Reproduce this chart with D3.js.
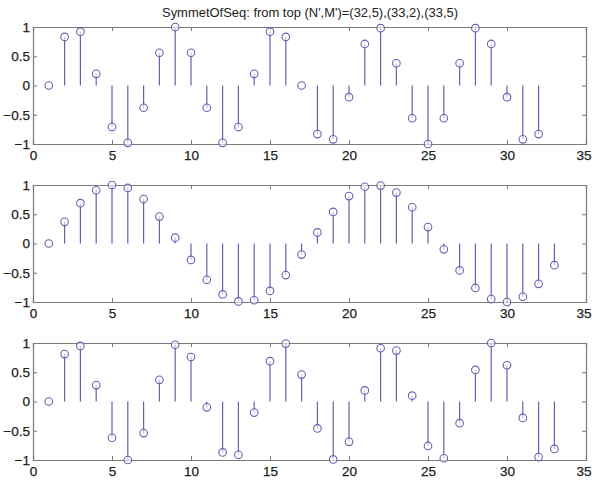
<!DOCTYPE html>
<html>
<head>
<meta charset="utf-8">
<script src="https://cdn.jsdelivr.net/npm/d3@7"></script>
<style>
  body { margin: 0; background: #fff; }
  svg { display: block; }
  .tick text { font-family: "Liberation Sans", Arial, sans-serif; font-size: 13.5px; fill: #222; stroke: #222; stroke-width: 0.25px; }
</style>
</head>
<body>
<div id="chart"></div>
<script>
// values, n = 1..N
var seqTop = [0, 0.83, 0.92, 0.20, -0.71, -0.98, -0.38, 0.56, 1.00, 0.56, -0.38, -0.98, -0.71, 0.20, 0.92, 0.83,
              0, -0.83, -0.92, -0.20, 0.71, 0.98, 0.38, -0.56, -1.00, -0.56, 0.38, 0.98, 0.71, -0.20, -0.92, -0.83]
var seqMid = [0, 0.37, 0.69, 0.91, 1.00, 0.95, 0.76, 0.46, 0.10, -0.28, -0.62, -0.87, -0.99, -0.97, -0.81, -0.54,
              -0.19, 0.19, 0.54, 0.81, 0.97, 0.99, 0.87, 0.62, 0.28, -0.10, -0.46, -0.76, -0.95, -1.00, -0.91, -0.69, -0.37]
var seqBot = [0, 0.81, 0.95, 0.28, -0.62, -1.00, -0.54, 0.37, 0.97, 0.76, -0.10, -0.87, -0.91, -0.19, 0.69, 0.99,
              0.46, -0.46, -0.99, -0.69, 0.19, 0.91, 0.87, 0.10, -0.76, -0.97, -0.37, 0.54, 1.00, 0.62, -0.28, -0.95, -0.81]
var xTicks = [0, 5, 10, 15, 20, 25, 30, 35]
var yTicks = [-1, -0.5, 0, 0.5, 1]
var titleText = "SymmetOfSeq: from top (N',M')=(32,5),(33,2),(33,5)"

var width = 592, height = 485
var margin = {left: 33, right: 6}
var panelTops = [27, 185, 343]
var panelH = 117
var stemColor = '#6262b0'
var frameColor = '#7a7a7a'

var svg = d3.select('#chart').append('svg')
    .attr('width', width)
    .attr('height', height)

//title is stretched a little in the original picture
svg.append('text')
    .attr('x', 162)
    .attr('y', 17)
    .attr('textLength', 296)
    .attr('lengthAdjust', 'spacingAndGlyphs')
    .attr('font-family', '"Liberation Sans", Arial, sans-serif')
    .attr('font-size', 12.5)
    .attr('fill', '#222')
    .text(titleText)

var x = d3.scaleLinear().domain([0, 35]).range([margin.left, width - margin.right])

function drawPanel(data, top){
    var y = d3.scaleLinear().domain([-1, 1]).range([top + panelH, top])
    var g = svg.append('g')

    //axes, matlab style: ticks inside, mirrored
    var bottomAxis = d3.axisBottom(x).tickValues(xTicks).tickSize(-4).tickPadding(6).tickFormat(d3.format('d'))
    var topAxis = d3.axisTop(x).tickValues(xTicks).tickSize(-4).tickFormat('')
    var leftAxis = d3.axisLeft(y).tickValues(yTicks).tickSize(-4).tickPadding(3).tickFormat(d => d3.format('')(d))
    var rightAxis = d3.axisRight(y).tickValues(yTicks).tickSize(-4).tickFormat('')

    var axes = [
        g.append('g').attr('transform', `translate(0,${top + panelH})`).call(bottomAxis),
        g.append('g').attr('transform', `translate(0,${top})`).call(topAxis),
        g.append('g').attr('transform', `translate(${margin.left},0)`).call(leftAxis),
        g.append('g').attr('transform', `translate(${width - margin.right},0)`).call(rightAxis)
    ]
    axes.forEach(a => {
        a.select('.domain').attr('stroke', frameColor).attr('stroke-width', 1.2)
        a.selectAll('.tick line').attr('stroke', frameColor)
    })
    //keep the last x label inside the window
    axes[0].selectAll('.tick text').filter(d => d === 35)
        .attr('text-anchor', 'end')
        .attr('dx', 5)

    //stems
    g.selectAll('line.stem')
        .data(data)
        .enter()
        .append('line')
        .attr('class', 'stem')
        .attr('x1', (d, i) => x(i + 1))
        .attr('x2', (d, i) => x(i + 1))
        .attr('y1', y(0))
        .attr('y2', d => y(d))
        .attr('stroke', stemColor)
        .attr('stroke-width', 1.2)

    //markers
    g.selectAll('circle')
        .data(data)
        .enter()
        .append('circle')
        .attr('cx', (d, i) => x(i + 1))
        .attr('cy', d => y(d))
        .attr('r', 3.8)
        .attr('fill', '#fff')
        .attr('fill-opacity', 0.6)
        .attr('stroke', stemColor)
        .attr('stroke-width', 1.1)
}

drawPanel(seqTop, panelTops[0])
drawPanel(seqMid, panelTops[1])
drawPanel(seqBot, panelTops[2])
</script>
</body>
</html>
